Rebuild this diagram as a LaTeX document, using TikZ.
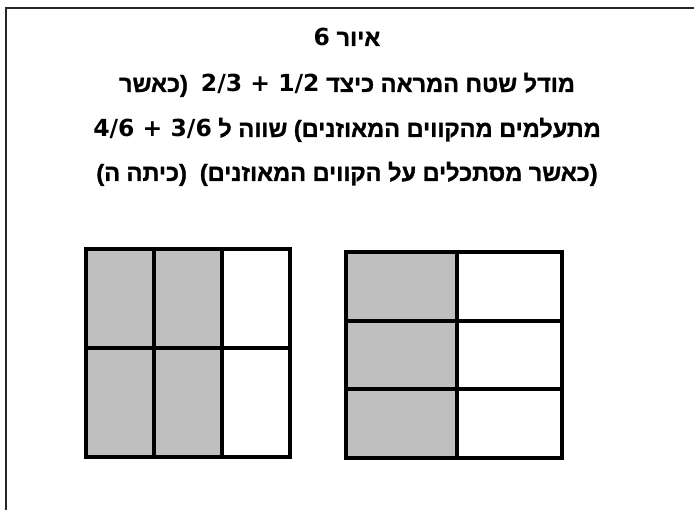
\documentclass[tikz,border=0pt]{standalone}
\usepackage{fontspec}
\TeXXeTstate=1
\newfontfamily\hebfont[Script=Hebrew,BoldFeatures={FakeBold=1.2}]{Liberation Sans}
\newfontfamily\numfont{DejaVu Sans}
\begin{document}
\begin{tikzpicture}[x=1bp,y=-1bp,
  txt/.style={anchor=base,inner sep=0pt,font=\hebfont\bfseries\fontsize{23.5bp}{28bp}\selectfont},
  cell/.style={line width=3.2bp,draw=black},
  shade/.style={fill=black!25}]
\useasboundingbox (0,0) rectangle (694,510);
% frame
\coordinate (fa) at (6,510);
\coordinate (fb) at (6,8);
\coordinate (fc) at (694,8);
\draw[line width=2.4bp,black!85] (fa) -- (fb) -- (fc);
% texts
\node[txt] (title) at (347,46) {\beginR איור \beginL{\numfont\bfseries 6}\endL\endR};
\node[txt] (l1) at (347,92) {\beginR מודל שטח המראה כיצד \beginL{\numfont\bfseries 2/3 + 1/2}\endL\ \ (כאשר\endR};
\node[txt] (l2) at (347,137) {\beginR מתעלמים מהקווים המאוזנים) שווה ל \beginL{\numfont\bfseries 4/6 + 3/6}\endL\endR};
\node[txt] (l3) at (347,181) {\beginR (כאשר מסתכלים על הקווים המאוזנים)\ \ (כיתה ה)\endR};
% left grid
\fill[shade] (86,249) rectangle (222,457);
\draw[cell] (86,249) rectangle (290,457);
\draw[cell] (154,249) -- (154,457);
\draw[cell] (222,249) -- (222,457);
\draw[cell] (86,348) -- (290,348);
% right grid
\fill[shade] (346,252) rectangle (457,458);
\draw[cell] (346,252) rectangle (562,458);
\draw[cell] (457,252) -- (457,458);
\draw[cell] (346,321) -- (562,321);
\draw[cell] (346,389) -- (562,389);
\end{tikzpicture}
\end{document}
